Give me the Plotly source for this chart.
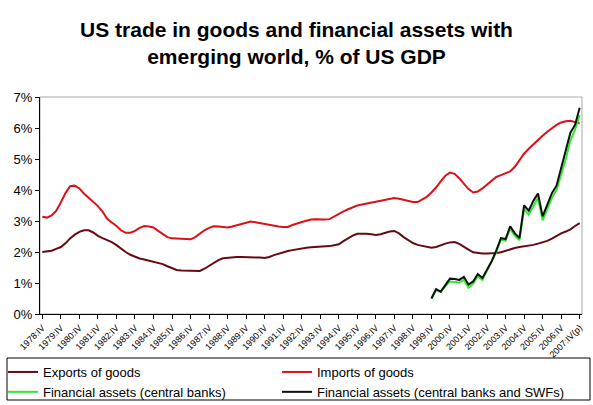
import plotly.graph_objects as go

# ---- data -------------------------------------------------------------
roman = ["I", "II", "III", "IV"]
quarters = []
y, q = 1978, 3
for _ in range(117):
    quarters.append(f"{y}:{roman[q]}")
    q += 1
    if q == 4:
        q, y = 0, y + 1

tick_quarters = [f"{yr}:IV" for yr in range(1978, 2008)]
tick_labels = ["1978:IV", "1979:IV", "1980:IV", "1981:IV", "1982:IV", "1983:IV",
               "1984:IV", "1985:IV", "1986:IV", "1987:IV", "1988:IV", "1989:IV",
               "1990:IV", "1991:IV", "1992:IV", "1993:IV", "1994:IV", "1995:IV",
               "1996:IV", "1997:IV", "1998:IV", "1999:IV", "2000:IV", "2001:IV",
               "2002:IV", "2003:IV", "2004:IV", "2005:IV", "2006:IV", "2007:IV(p)"]

exports_goods = [
    2.00, 2.01, 2.04, 2.10, 2.16, 2.28, 2.44, 2.56, 2.65, 2.70,
    2.70, 2.63, 2.52, 2.45, 2.38, 2.32, 2.22, 2.10, 2.00, 1.91,
    1.84, 1.79, 1.76, 1.72, 1.69, 1.66, 1.61, 1.54, 1.47, 1.42,
    1.40, 1.40, 1.38, 1.38, 1.39, 1.46, 1.56, 1.65, 1.74, 1.80,
    1.82, 1.83, 1.84, 1.84, 1.84, 1.84, 1.83, 1.82, 1.81, 1.84,
    1.90, 1.95, 2.00, 2.03, 2.06, 2.09, 2.12, 2.14, 2.15, 2.16,
    2.17, 2.17, 2.19, 2.22, 2.25, 2.35, 2.45, 2.53, 2.59, 2.60,
    2.59, 2.57, 2.55, 2.57, 2.62, 2.66, 2.68, 2.60, 2.48, 2.38,
    2.29, 2.23, 2.20, 2.17, 2.14, 2.16, 2.22, 2.27, 2.31, 2.32,
    2.26, 2.18, 2.08, 1.99, 1.96, 1.95, 1.95, 1.95, 1.97, 1.99,
    2.04, 2.09, 2.13, 2.16, 2.18, 2.20, 2.23, 2.27, 2.31, 2.36,
    2.43, 2.52, 2.60, 2.66, 2.73, 2.84, 2.93]

imports_goods = [
    3.14, 3.11, 3.18, 3.33, 3.60, 3.90, 4.12, 4.14, 4.05, 3.88,
    3.75, 3.62, 3.48, 3.30, 3.07, 2.95, 2.84, 2.70, 2.62, 2.62,
    2.68, 2.78, 2.84, 2.82, 2.79, 2.68, 2.57, 2.48, 2.44, 2.43,
    2.42, 2.41, 2.41, 2.48, 2.60, 2.70, 2.78, 2.83, 2.82, 2.80,
    2.79, 2.82, 2.86, 2.89, 2.94, 2.98, 2.96, 2.93, 2.90, 2.87,
    2.84, 2.82, 2.81, 2.81, 2.87, 2.93, 2.97, 3.01, 3.05, 3.06,
    3.05, 3.05, 3.06, 3.15, 3.24, 3.31, 3.38, 3.45, 3.50, 3.53,
    3.56, 3.60, 3.63, 3.66, 3.70, 3.73, 3.74, 3.72, 3.68, 3.64,
    3.61, 3.61, 3.70, 3.78, 3.92, 4.08, 4.28, 4.46, 4.56, 4.52,
    4.38, 4.20, 4.03, 3.92, 3.95, 4.05, 4.18, 4.32, 4.42, 4.48,
    4.53, 4.60, 4.75, 4.98, 5.17, 5.33, 5.48, 5.62, 5.75, 5.88,
    6.00, 6.10, 6.18, 6.22, 6.23, 6.18, 6.15]

fin_start = "1999:IV"
fin_central_banks = [
    0.50, 0.78, 0.70, 0.90, 1.05, 1.04, 1.02, 1.10, 0.85, 0.97,
    1.22, 1.10, 1.40, 1.65, 2.00, 2.40, 2.36, 2.75, 2.52, 2.38,
    3.38, 3.20, 3.50, 3.75, 3.02, 3.40, 3.75, 4.00, 4.50, 5.00,
    5.60, 5.95, 6.42]
fin_cb_swf = [
    0.50, 0.80, 0.72, 0.95, 1.14, 1.13, 1.10, 1.20, 0.95, 1.05,
    1.29, 1.16, 1.45, 1.70, 2.05, 2.45, 2.42, 2.83, 2.60, 2.45,
    3.50, 3.33, 3.65, 3.89, 3.15, 3.55, 3.90, 4.14, 4.70, 5.20,
    5.85, 6.10, 6.65]

y_ticks = [0, 1, 2, 3, 4, 5, 6, 7]

# ---- figure -----------------------------------------------------------
fin_quarters = quarters[quarters.index(fin_start):]
FONT = "Arial, Liberation Sans, sans-serif"

fig = go.Figure()
fig.add_trace(go.Scatter(x=quarters, y=exports_goods, mode="lines",
                         name="Exports of goods", legend="legend",
                         line=dict(color="#660a12", width=2)))
fig.add_trace(go.Scatter(x=quarters, y=imports_goods, mode="lines",
                         name="Imports of goods", legend="legend2",
                         line=dict(color="#dc1018", width=2)))
fig.add_trace(go.Scatter(x=fin_quarters, y=fin_central_banks, mode="lines",
                         name="Financial assets (central banks)", legend="legend",
                         line=dict(color="#33e833", width=2)))
fig.add_trace(go.Scatter(x=fin_quarters, y=fin_cb_swf, mode="lines",
                         name="Financial assets (central banks and SWFs)",
                         legend="legend2",
                         line=dict(color="#0a140a", width=2)))

L, R, T, B = 40, 11, 97, 91
W, H = 593, 405
pw, ph = W - L - R, H - T - B

def px_x(p):
    return (p - L) / pw

def px_y(p):
    return (H - B - p) / ph

legend_common = dict(orientation="v", font=dict(family=FONT, size=13, color="#000"),
                     bgcolor="rgba(0,0,0,0)", borderwidth=0, tracegroupgap=0,
                     xanchor="left", yanchor="top", itemclick=False,
                     xref="container", yref="container")

fig.update_layout(
    width=W, height=H,
    margin=dict(l=L, r=R, t=T, b=B, autoexpand=False),
    paper_bgcolor="white", plot_bgcolor="white",
    font=dict(family=FONT, color="#000"),
    title=dict(text="US trade in goods and financial assets with<br>emerging world, % of US GDP",
               x=0.5, xanchor="center", xref="container",
               y=1 - 37 / H, yanchor="top", yref="container",
               font=dict(family=FONT, size=21, color="#000", weight="bold")),
    showlegend=True,
    legend=dict(x=3 / W, y=1 - 357 / H, **legend_common),
    legend2=dict(x=277 / W, y=1 - 357 / H, **legend_common),
    xaxis=dict(type="category", categoryorder="array", categoryarray=quarters,
               range=[-0.5, len(quarters) - 0.5], automargin=False,
               tickmode="array", tickvals=tick_quarters, ticktext=tick_labels,
               tickangle=-45, tickfont=dict(family=FONT, size=9, color="#000"),
               ticks="outside", ticklen=4, tickcolor="#000",
               showline=True, linecolor="#000", linewidth=1,
               showgrid=False, zeroline=False, fixedrange=True),
    yaxis=dict(range=[0, 7], tickmode="array", tickvals=y_ticks, automargin=False,
               ticktext=[f"{v}%" for v in y_ticks],
               tickfont=dict(family=FONT, size=13, color="#000"),
               ticks="outside", ticklen=4, tickcolor="#000",
               showline=True, linecolor="#000", linewidth=1,
               showgrid=False, zeroline=False, fixedrange=True),
    shapes=[
        dict(type="rect", xref="paper", yref="paper", x0=0, x1=1, y0=0, y1=1,
             line=dict(color="#a8a8a8", width=1), layer="below"),
        dict(type="rect", xref="paper", yref="paper",
             x0=px_x(7), x1=px_x(590), y0=px_y(400), y1=px_y(358),
             line=dict(color="#000", width=1)),
    ],
)

fig.write_html("out.html")
